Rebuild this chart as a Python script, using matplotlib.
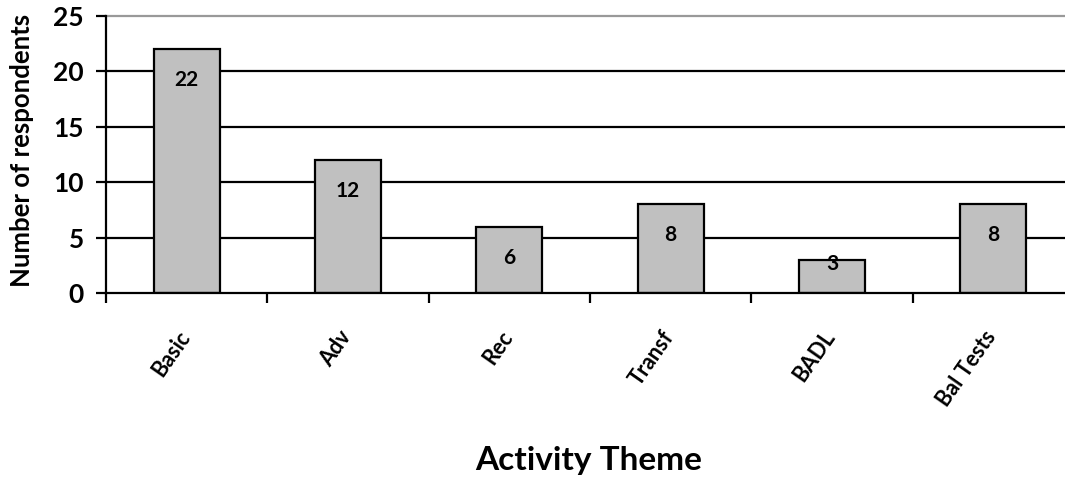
import matplotlib.pyplot as plt
import numpy as np

# respondents per activity theme
themes = ['Basic', 'Adv', 'Rec', 'Transf', 'BADL', 'Bal Tests']
counts = [22, 12, 6, 8, 3, 8]
y_ticks = [0, 5, 10, 15, 20, 25]

plt.rcParams['font.family'] = ['Lato', 'DejaVu Sans']
plt.rcParams['font.weight'] = 'bold'

W, H = 1065, 479
fig = plt.figure(figsize=(W / 100, H / 100), dpi=100)
ax = fig.add_axes([106 / W, 1 - 293 / H, (1074 - 106) / W, (293 - 16) / H])

x = np.arange(len(themes))

# horizontal gridlines, top one grey
for yv in y_ticks[1:]:
    col = '#999999' if yv == y_ticks[-1] else 'black'
    ax.axhline(yv, color=col, lw=1.6, zorder=1, clip_on=False)

ax.bar(x, counts, width=0.41, color='#c0c0c0', edgecolor='black', lw=1.6, zorder=2)

# value labels just inside the bar top
for xi, v in zip(x, counts):
    off = -31 if v > 4 else -4
    ax.annotate(str(v), (xi, v), xytext=(0, off), textcoords='offset pixels',
                ha='center', va='center', fontsize=15, fontweight='bold', zorder=3)

ax.set_xlim(-0.5, len(themes) - 0.5)
ax.set_ylim(0, 25)
ax.set_yticks(y_ticks)
ax.set_yticklabels([str(t) for t in y_ticks], fontsize=19, fontweight='bold')

# category boundary ticks on x axis
ax.set_xticks(np.arange(len(themes) + 1) - 0.5)
ax.set_xticklabels([])
ax.tick_params(axis='x', length=7, width=1.6, direction='out')
ax.tick_params(axis='y', length=7, width=1.6, direction='out', pad=9)

for xi, name in zip(x, themes):
    ax.annotate(name, (xi, 0), xytext=(-10, -34), textcoords='offset pixels',
                ha='right', va='top', rotation=55, rotation_mode='anchor',
                fontsize=15.5, fontweight='bold')

for s in ['top', 'right']:
    ax.spines[s].set_visible(False)
ax.spines['left'].set_linewidth(1.6)
ax.spines['bottom'].set_linewidth(1.6)

fig.text(22 / W, 1 - 150 / H, 'Number of respondents', rotation=90,
         ha='center', va='center', fontsize=18.5, fontweight='bold')
fig.text(589 / W, 1 - 470 / H, 'Activity Theme', ha='center', va='baseline',
         fontsize=24, fontweight='bold')

fig.savefig('out.png', dpi=100)
